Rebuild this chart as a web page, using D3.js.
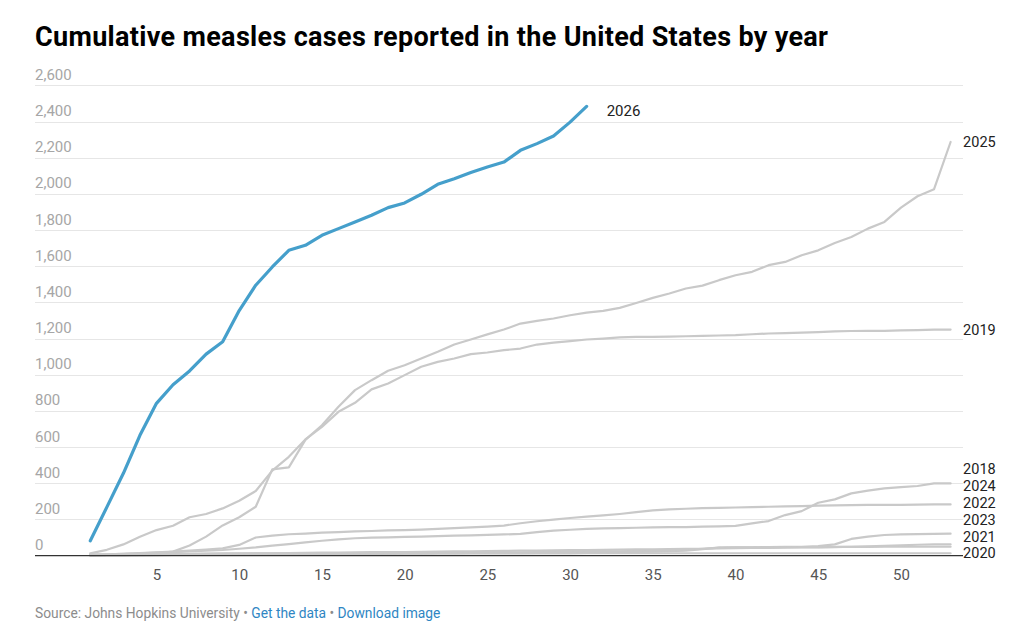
<!DOCTYPE html>
<html>
<head>
<meta charset="utf-8">
<script src="https://cdn.jsdelivr.net/npm/d3@7/dist/d3.min.js"></script>
<style>
  html, body { margin: 0; padding: 0; background: #fff; }
  svg { display: block; font-family: Roboto, "Noto Sans", sans-serif; }
</style>
</head>
<body>
<svg id="chart" width="1024" height="632"></svg>
<script>
// ---- data ----
const weeks = d3.range(1, 54);
const xTicks = [5, 10, 15, 20, 25, 30, 35, 40, 45, 50];
const yTicks = [0, 200, 400, 600, 800, 1000, 1200, 1400, 1600, 1800, 2000, 2200, 2400, 2600];

const y2018 = [4,7,10,13,16,19,23,27,31,38,45,55,63,73,82,90,96,99,101,103,105,108,110,112,115,117,120,130,138,143,148,150,152,154,156,157,158,160,162,164,178,191,224,246,292,311,344,359,372,379,385,399,399];
const y2019 = [12,32,62,104,141,165,212,230,261,303,357,470,546,642,712,795,845,919,952,998,1044,1071,1090,1114,1123,1136,1145,1167,1178,1186,1195,1200,1207,1209,1210,1211,1213,1215,1217,1219,1224,1228,1230,1233,1236,1240,1242,1243,1243,1245,1247,1249,1250];
const y2020 = [1,2,3,5,7,9,10,11,12,12,12,12,12,12,12,12,12,12,12,12,12,12,12,12,12,12,12,12,12,12,13,13,13,13,13,13,13,13,13,13,13,13,13,13,13,13,13,13,13,13,13,13,13];
const y2021 = [1,2,2,3,3,4,4,5,5,6,6,7,7,8,8,9,9,10,10,11,11,12,12,13,13,14,14,15,15,16,16,17,18,20,22,24,28,35,44,45,46,46,47,47,47,48,48,48,49,49,49,49,49];
const y2022 = [1,2,3,3,4,4,5,5,6,6,7,7,8,8,9,9,10,10,11,12,12,13,14,15,16,17,18,19,20,21,22,23,24,26,28,30,32,38,44,45,46,47,48,49,52,62,92,105,114,117,119,120,121];
const y2023 = [1,2,3,4,5,6,8,9,10,11,12,13,14,15,16,17,18,19,20,20,21,22,23,24,25,26,27,28,29,30,31,32,33,34,35,36,37,38,40,41,42,43,44,45,46,47,49,51,54,57,60,62,62];
const y2024 = [4,7,10,14,18,22,27,33,40,59,100,110,118,122,127,130,134,136,139,141,144,148,152,156,160,166,179,190,199,208,216,222,230,240,250,256,259,262,264,266,268,270,272,274,276,278,279,280,281,281,282,283,283];
const y2025 = [5,6,8,10,12,22,56,105,167,212,270,477,488,640,721,823,915,970,1022,1053,1090,1127,1167,1195,1223,1250,1283,1298,1311,1329,1344,1353,1370,1397,1425,1449,1477,1493,1523,1550,1569,1606,1624,1661,1688,1729,1762,1808,1845,1924,1987,2026,2287];
const y2026 = [82,268,455,665,842,945,1021,1114,1182,1355,1495,1596,1688,1716,1771,1808,1845,1882,1924,1950,1998,2053,2084,2118,2149,2176,2241,2278,2320,2397,2484];

const seriesNames = ["2018","2019","2020","2021","2022","2023","2024","2025","2026"];
const seriesValues = [y2018, y2019, y2020, y2021, y2022, y2023, y2024, y2025, y2026];
const highlight = "2026";

const titleText = "Cumulative measles cases reported in the United States by year";

// ---- layout ----
const plotLeft = 35, plotRight = 963;
const svg = d3.select("#chart");

const x = d3.scaleLinear().domain([1, 53]).range([90.3, 950.6]);
const y = d3.scaleLinear().domain([0, 2600]).range([555.6, 85.4]);

// title
const title = svg.append("text")
  .attr("x", plotLeft).attr("y", 45.5)
  .attr("font-size", 27).attr("font-weight", 700).attr("fill", "#000")
  .text(titleText);
const tLen = title.node().getComputedTextLength();
const target = 793;
if (tLen > 0) {
  const ls = (target - tLen) / (titleText.length - 1);
  title.attr("letter-spacing", ls.toFixed(3));
}

// gridlines + y labels
const gY = svg.append("g");
gY.selectAll("line.grid").data(yTicks.filter(d => d > 0)).join("line")
  .attr("x1", plotLeft).attr("x2", plotRight)
  .attr("y1", d => Math.round(y(d)) + 0.5).attr("y2", d => Math.round(y(d)) + 0.5)
  .attr("stroke", "#e6e6e6").attr("stroke-width", 1);
gY.selectAll("text").data(yTicks).join("text")
  .attr("x", plotLeft).attr("y", d => y(d) - 5.5)
  .attr("font-size", 15).attr("fill", "#a6a6a6")
  .text(d => d3.format(",")(d));

// x axis labels (via d3 axis)
const xAxis = d3.axisBottom(x).tickValues(xTicks).tickSize(0).tickPadding(0).tickFormat(d3.format("d"));
const gX = svg.append("g").attr("transform", `translate(0, ${y(0)})`).call(xAxis);
gX.select(".domain").remove();
gX.selectAll("text")
  .attr("dy", null).attr("y", 24.5)
  .attr("font-size", 15).attr("fill", "#555").attr("font-family", "Roboto, sans-serif");

// lines
const line = d3.line().x((d, i) => x(weeks[i])).y(d => y(d));
const gLines = svg.append("g").attr("fill", "none").attr("stroke-linejoin", "round").attr("stroke-linecap", "round");
seriesNames.forEach((name, k) => {
  if (name === highlight) return;
  gLines.append("path").attr("d", line(seriesValues[k]))
    .attr("stroke", "#c9c9c9").attr("stroke-width", 2.2);
});

// baseline axis
svg.append("line")
  .attr("x1", plotLeft).attr("x2", plotRight)
  .attr("y1", y(0)).attr("y2", y(0))
  .attr("stroke", "#333").attr("stroke-width", 1.4);

// highlighted line on top
const hk = seriesNames.indexOf(highlight);
svg.append("path").attr("d", line(seriesValues[hk]))
  .attr("fill", "none").attr("stroke-linejoin", "round").attr("stroke-linecap", "round")
  .attr("stroke", "#459fcb").attr("stroke-width", 3.2);

// labels
const labels = seriesNames.map((name, k) => {
  const vals = seriesValues[k];
  const last = vals.length;
  return { name, wx: x(weeks[last - 1]), ty: y(vals[last - 1]), end: last };
});
// right-edge labels with simple dodge (bottom-up)
const edge = labels.filter(l => l.end === 53).sort((a, b) => b.ty - a.ty);
let prev = null;
const gap = 16.8;
edge.forEach(l => {
  let yy = Math.min(l.ty, y(0) + 2);
  if (prev !== null) yy = Math.min(yy, prev - gap);
  l.ly = yy; prev = yy;
});
svg.append("g").selectAll("text").data(edge).join("text")
  .attr("x", d => d.wx + 12.5).attr("y", d => d.ly).attr("dy", "0.35em")
  .attr("font-size", 14.5).attr("fill", "#222").text(d => d.name);
labels.filter(l => l.end !== 53).forEach(l => {
  svg.append("text").attr("x", l.wx + 20).attr("y", l.ty + 4).attr("dy", "0.35em")
    .attr("font-size", 15).attr("fill", "#222").text(l.name);
});

// footer
const foot = svg.append("text").attr("x", plotLeft).attr("y", 618).attr("font-size", 13.8);
foot.append("tspan").attr("fill", "#8c8c8c").text("Source: Johns Hopkins University • ");
foot.append("tspan").attr("fill", "#2f86c3").text("Get the data");
foot.append("tspan").attr("fill", "#8c8c8c").text(" • ");
foot.append("tspan").attr("fill", "#2f86c3").text("Download image");
</script>
</body>
</html>
